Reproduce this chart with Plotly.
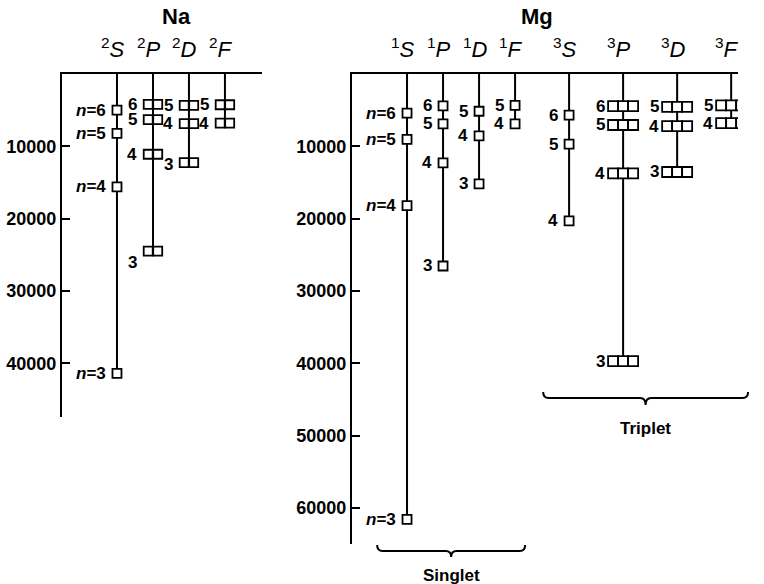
import plotly.graph_objects as go

# ---------------- data (term values, cm^-1 below the ionisation limit) ----------------
na_terms = ["<sup>2</sup><i>S</i>", "<sup>2</sup><i>P</i>", "<sup>2</sup><i>D</i>", "<sup>2</sup><i>F</i>"]
na_S_n = [6, 5, 4, 3]
na_S_E = [5000, 8200, 15600, 41400]
na_P_n = [6, 5, 4, 3]
na_P_E = [4200, 6300, 11100, 24500]
na_D_n = [5, 4, 3]
na_D_E = [4350, 6850, 12250]
na_F_n = [5, 4]
na_F_E = [4250, 6800]

mg_terms = ["<sup>1</sup><i>S</i>", "<sup>1</sup><i>P</i>", "<sup>1</sup><i>D</i>", "<sup>1</sup><i>F</i>",
            "<sup>3</sup><i>S</i>", "<sup>3</sup><i>P</i>", "<sup>3</sup><i>D</i>", "<sup>3</sup><i>F</i>"]
mg_1S_n = [6, 5, 4, 3]
mg_1S_E = [5400, 9050, 18200, 61600]
mg_1P_n = [6, 5, 4, 3]
mg_1P_E = [4400, 6900, 12300, 26550]
mg_1D_n = [5, 4, 3]
mg_1D_E = [5150, 8550, 15200]
mg_1F_n = [5, 4]
mg_1F_E = [4350, 6900]
mg_3S_n = [6, 5, 4]
mg_3S_E = [5700, 9700, 20300]
mg_3P_n = [6, 5, 4, 3]
mg_3P_E = [4450, 7050, 13750, 39700]
mg_3D_n = [5, 4, 3]
mg_3D_E = [4550, 7200, 13550]
mg_3F_n = [5, 4]
mg_3F_E = [4350, 6800]

na_ticks = [10000, 20000, 30000, 40000]
mg_ticks = [10000, 20000, 30000, 40000, 50000, 60000]

# ---------------- layout helpers ----------------
W, H = 764, 584
FONT = "Liberation Sans, Arial, sans-serif"


def py(px):  # pixel row -> paper fraction
    return 1 - px / H


panels = [
    dict(name="Na", xref="x", yref="y", xdom=(62, 262), xr=(-1.528, 4.03), ydom=(74, 417), ymax=47440,
         ticks=na_ticks, terms=na_terms,
         cols=[(0, na_S_n, na_S_E, 1), (1, na_P_n, na_P_E, 2), (2, na_D_n, na_D_E, 2), (3, na_F_n, na_F_E, 2)]),
    dict(name="Mg", xref="x2", yref="y2", xdom=(352, 738), xr=(-1.528, 9.19), ydom=(74, 544), ymax=65000,
         ticks=mg_ticks, terms=mg_terms,
         cols=[(0, mg_1S_n, mg_1S_E, 1), (1, mg_1P_n, mg_1P_E, 1), (2, mg_1D_n, mg_1D_E, 1),
               (3, mg_1F_n, mg_1F_E, 1), (4.5, mg_3S_n, mg_3S_E, 1), (6, mg_3P_n, mg_3P_E, 3),
               (7.5, mg_3D_n, mg_3D_E, 3), (9, mg_3F_n, mg_3F_E, 3)]),
]

fig = go.Figure()
annotations = []
shapes = []

for p in panels:
    ppu = (p["xdom"][1] - p["xdom"][0]) / (p["xr"][1] - p["xr"][0])  # pixels per x unit
    p["ppu"] = ppu
    xa = "x" if p["xref"] == "x" else "x2"
    ya = "y" if p["yref"] == "y" else "y2"
    for ci, (cx, ns, es, cells) in enumerate(p["cols"]):
        # vertical line of the series
        fig.add_trace(go.Scatter(x=[cx, cx], y=[0, max(es)], mode="lines",
                                 line=dict(color="black", width=2), xaxis=xa, yaxis=ya,
                                 hoverinfo="skip"))
        cell = 10 if cells == 3 else 9.5
        size = 10 if cells == 3 else 9
        xs, ys = [], []
        for e in es:
            for k in range(cells):
                off = (k - (cells - 1) / 2) * cell
                xs.append(cx + off / ppu)
                ys.append(e)
        fig.add_trace(go.Scatter(x=xs, y=ys, mode="markers", xaxis=xa, yaxis=ya,
                                 marker=dict(symbol="square", size=size, color="white",
                                             line=dict(color="black", width=1.8)),
                                 hoverinfo="skip"))
        half = cells * cell / 2
        gap = 5 if cells < 3 else 2
        for n, e in zip(ns, es):
            txt = f"<i>n</i>={n}" if ci == 0 else f"{n}"
            ysh = 0
            if p["name"] == "Na" and ci == 1 and n == 3:
                ysh = -11
            if p["name"] == "Na" and ci == 2 and n == 3:
                ysh = -2
            annotations.append(dict(x=cx, y=e, xref=p["xref"], yref=p["yref"], text=f"<b>{txt}</b>",
                                    xanchor="right", yanchor="middle", showarrow=False,
                                    xshift=-(half + gap), yshift=ysh, borderpad=0,
                                    font=dict(family=FONT, size=17, color="black")))
        # column header
        annotations.append(dict(x=cx, y=py(48), xref=p["xref"], yref="paper", text=p["terms"][ci],
                                xanchor="center", yanchor="middle", showarrow=False, xshift=-4,
                                font=dict(family=FONT, size=22, color="black")))

# panel titles
annotations.append(dict(x=176 / W, y=py(16), xref="paper", yref="paper", text="<b>Na</b>", showarrow=False,
                        xanchor="center", yanchor="middle", font=dict(family=FONT, size=22, color="black")))
annotations.append(dict(x=537 / W, y=py(17), xref="paper", yref="paper", text="<b>Mg</b>", showarrow=False,
                        xanchor="center", yanchor="middle", font=dict(family=FONT, size=22, color="black")))

mg = panels[1]


def mgx(x):  # Mg data x -> paper fraction
    return (mg["xdom"][0] + (x - mg["xr"][0]) * mg["ppu"]) / W


def brace(xl, xr, ye, yl, yt, d=0.15):
    xm = (xl + xr) / 2
    X = mgx
    return (f"M {X(xl)},{py(ye)} Q {X(xl)},{py(yl)} {X(xl + d)},{py(yl)} L {X(xm - d)},{py(yl)} "
            f"Q {X(xm)},{py(yl)} {X(xm)},{py(yt)} Q {X(xm)},{py(yl)} {X(xm + d)},{py(yl)} "
            f"L {X(xr - d)},{py(yl)} Q {X(xr)},{py(yl)} {X(xr)},{py(ye)}"), xm


for (xl, xr, ye, yl, yt, label, ty) in [(-0.83, 3.28, 545, 551, 557, "Singlet", 575),
                                         (3.78, 9.47, 392, 398, 405, "Triplet", 428)]:
    path, xm = brace(xl, xr, ye, yl, yt)
    shapes.append(dict(type="path", path=path, xref="paper", yref="paper",
                       line=dict(color="black", width=2)))
    annotations.append(dict(x=mgx(xm), y=py(ty), xref="paper", yref="paper", text=f"<b>{label}</b>",
                            showarrow=False, xanchor="center", yanchor="middle",
                            font=dict(family=FONT, size=17, color="black")))

axis_common = dict(showgrid=False, zeroline=False, fixedrange=True, linecolor="black", linewidth=2)

for i, p in enumerate(panels):
    sx = "" if i == 0 else "2"
    fig.layout[f"xaxis{sx}"] = dict(axis_common, domain=[p["xdom"][0] / W, p["xdom"][1] / W],
                                    range=list(p["xr"]), anchor=f"y{sx}", side="top",
                                    showline=True, showticklabels=False, ticks="")
    fig.layout[f"yaxis{sx}"] = dict(axis_common, domain=[py(p["ydom"][1]), py(p["ydom"][0])],
                                    range=[p["ymax"], 0], anchor=f"x{sx}", showline=True,
                                    ticks="inside", ticklen=8, tickwidth=2, tickcolor="black",
                                    tickvals=p["ticks"], ticktext=[f"<b>{t}</b>" for t in p["ticks"]],
                                    tickfont=dict(family=FONT, size=18, color="black"))

fig.update_layout(width=W, height=H, margin=dict(l=0, r=0, t=0, b=0), showlegend=False,
                  plot_bgcolor="white", paper_bgcolor="white", hovermode=False,
                  annotations=annotations, shapes=shapes)

fig.write_html("out.html", config={"displayModeBar": False, "staticPlot": True},
               post_script="document.body.style.margin='0';document.body.style.padding='0';")
